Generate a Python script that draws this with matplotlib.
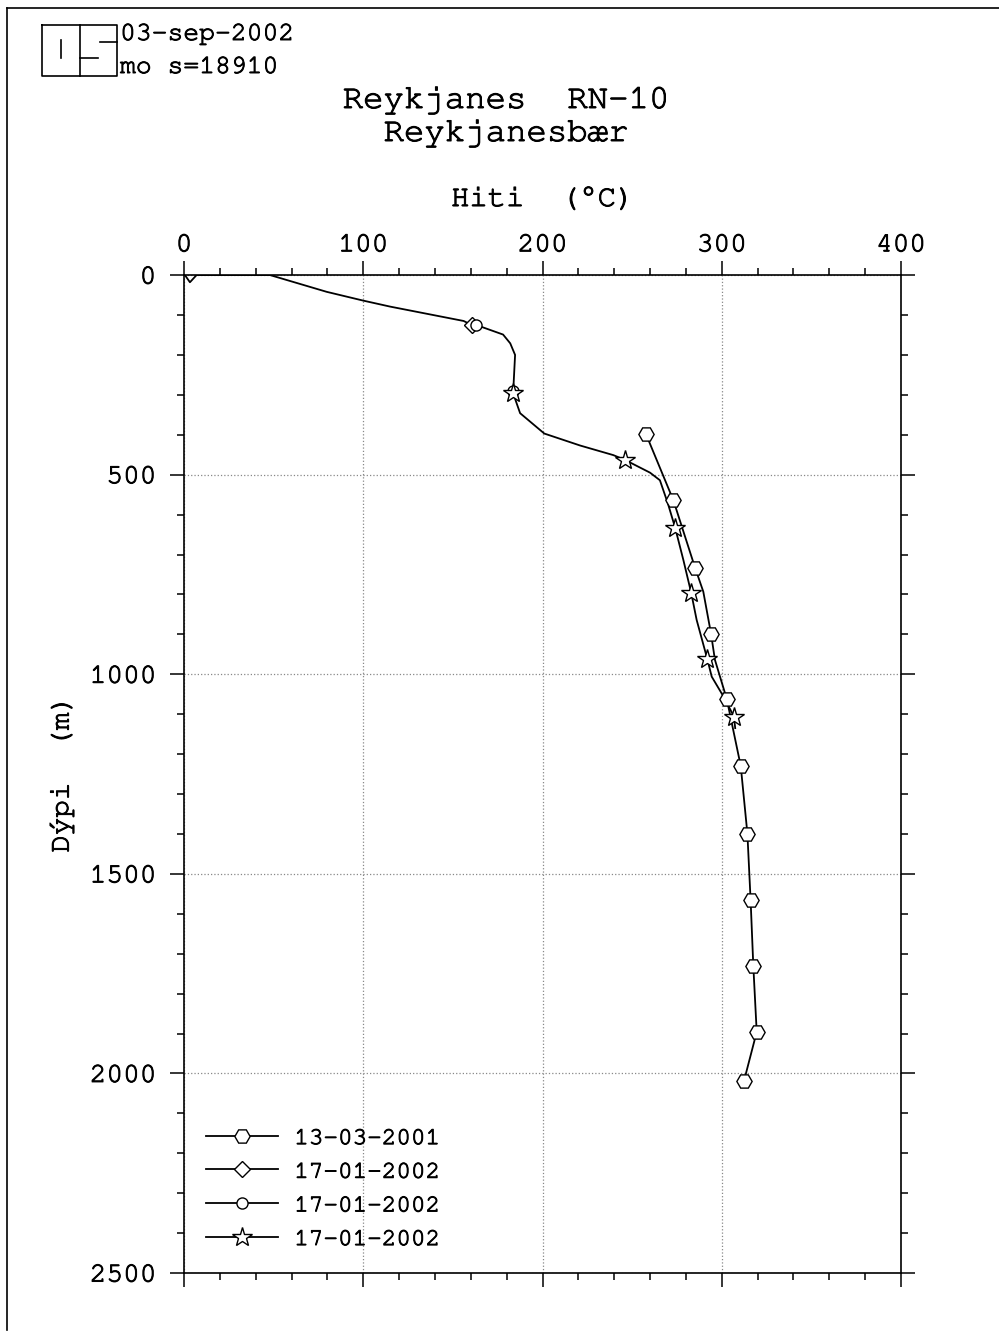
import matplotlib
matplotlib.use("Agg")
import matplotlib.pyplot as plt
import matplotlib.patheffects as pe
from matplotlib import font_manager
from matplotlib.lines import Line2D
from matplotlib.text import Text

# prefer a serif courier-like face if there is one, else Liberation Mono
names = {f.name for f in font_manager.fontManager.ttflist}
mono = [n for n in ['Nimbus Mono PS', 'FreeMono', 'Courier New', 'Courier'] if n in names]
plt.rcParams['font.family'] = mono + ['Liberation Mono', 'DejaVu Sans Mono']

# 13-03-2001 (hexagons) - line points and depths of the markers
hex_temp = [257.6, 273.0, 285.1, 289.7, 294.0, 296.2, 302.8, 310.6, 314.3, 316.1, 317.6, 319.5, 312.4]
hex_depth = [397, 564, 733, 793, 898, 964, 1062, 1230, 1399, 1566, 1730, 1896, 2019]
hex_mark_t = [257.6, 273.0, 285.1, 294.0, 302.8, 310.6, 314.3, 316.1, 317.6, 319.5, 312.4]
hex_mark_d = [397, 564, 733, 898, 1062, 1230, 1399, 1566, 1730, 1896, 2019]

# 17-01-2002, first log (diamonds)
dia_temp = [0.5, 3.3, 7, 48, 79.6, 100, 115, 156, 160.5]
dia_depth = [0, 18, 0, 0, 42, 64, 79, 115, 125]
dia_mark_t = [160.5]
dia_mark_d = [125]

# 17-01-2002, second log (circles)
cir_temp = [160.5, 163, 178, 182, 184.7, 183.7, 183.6]
cir_depth = [125, 125, 149, 171, 200, 288, 296]
cir_mark_t = [163, 183.4]
cir_mark_d = [125, 291]

# 17-01-2002, third log (stars)
star_temp = [183.6, 187.5, 201, 221, 239.5, 246, 260, 265.5, 270, 274, 278.6, 283, 286, 292, 294.4, 301, 306.8, 307.5]
star_depth = [296, 346, 397, 427, 451, 463, 495, 514, 573, 633, 714, 797, 864, 963, 1006, 1056, 1106, 1135]
star_mark_t = [183.6, 246, 274, 283, 292, 306.8]
star_mark_d = [296, 463, 633, 797, 963, 1106]

labels = ['13-03-2001', '17-01-2002', '17-01-2002', '17-01-2002']

fig = plt.figure(figsize=(9.99, 13.34), dpi=100)
ax = fig.add_axes([0.1842, 0.0457, 0.7177, 0.7481])

lw = 1.3
series = [
    (hex_temp, hex_depth, hex_mark_t, hex_mark_d, 'H', 11),
    (dia_temp, dia_depth, dia_mark_t, dia_mark_d, 'D', 8),
    (cir_temp, cir_depth, cir_mark_t, cir_mark_d, 'o', 8),
    (star_temp, star_depth, star_mark_t, star_mark_d, '*', 15),
]
handles = []
for (t, d, mt, md, m, ms), lab in zip(series, labels):
    ax.plot(t, d, color='black', lw=lw, zorder=3)
    ax.plot(mt, md, ls='none', marker=m, ms=ms, mfc='white', mec='black', mew=1.0, zorder=4)
    handles.append(Line2D([], [], color='black', lw=lw, marker=m, ms=ms, mfc='white',
                          mec='black', mew=1.0, label=lab))

ax.set_xlim(0, 400)
ax.set_ylim(2500, 0)
ax.set_xticks([0, 100, 200, 300, 400])
ax.set_xticks(range(0, 401, 20), minor=True)
ax.set_yticks([0, 500, 1000, 1500, 2000, 2500])
ax.set_yticks(range(0, 2501, 100), minor=True)

ax.tick_params(which='both', direction='out', top=True, bottom=True, left=True, right=True,
               labeltop=True, labelbottom=False, labelsize=20, width=1.1, colors='black')
ax.tick_params(which='major', length=10)
ax.tick_params(which='minor', length=5)
ax.tick_params(axis='x', pad=3.5)
ax.tick_params(axis='y', pad=10)

for s in ax.spines.values():
    s.set_linewidth(1.2)

ax.grid(True, which='major', ls=':', color='#888888', lw=0.9)

ax.set_xlabel('Hiti  (°C)', fontsize=22)
ax.xaxis.set_label_position('top')
ax.xaxis.set_label_coords(0.5, 1.0752)
ax.xaxis.label.set_va('center')
ax.set_ylabel('Dýpi  (m)', fontsize=21)
ax.yaxis.set_label_coords(-0.170, 0.5)
ax.yaxis.label.set_va('center')

ax.legend(handles=handles, loc='lower left', bbox_to_anchor=(0.03, 0.024), frameon=False,
          fontsize=17.5, handlelength=3.0, handletextpad=0.65, labelspacing=0.52,
          borderpad=0, borderaxespad=0)

fig.text(506 / 999, 1 - 100 / 1334, 'Reykjanes  RN-10', fontsize=24.5, ha='center', va='center')
fig.text(506 / 999, 1 - 133 / 1334, 'Reykjanesbær', fontsize=24.5, ha='center', va='center')

# stamp in the upper-left corner
W, H = 999, 1334
def fl(xs, ys, **kw):
    fig.add_artist(Line2D([x / W for x in xs], [1 - y / H for y in ys], color='black', lw=1.2, **kw))

fl([42, 117, 117, 42, 42], [25, 25, 76, 76, 25])
fl([80, 80], [25, 76])
fl([61, 61], [40, 58])
fl([100, 117], [42, 42])
fl([80, 98], [58, 58])
fig.text(120 / W, 1 - 35 / H, '03-sep-2002', fontsize=19, ha='left', va='center')
fig.text(120 / W, 1 - 68 / H, 'mo s=18910', fontsize=19, ha='left', va='center')

# page border
fl([7, 7], [1330, 8])
fl([7, 999], [8, 8])

# the scanned original has heavier strokes than the thin courier face
for t in fig.findobj(Text):
    t.set_path_effects([pe.withStroke(linewidth=0.7, foreground='black')])

fig.savefig('out.png', dpi=100)
